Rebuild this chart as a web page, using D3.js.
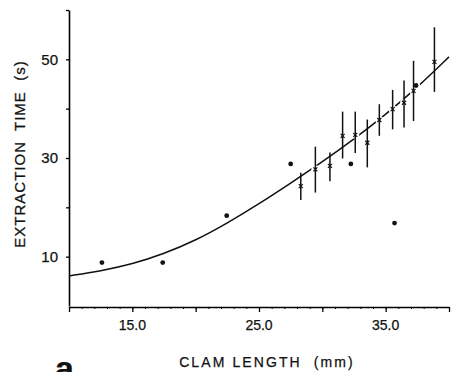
<!DOCTYPE html>
<html>
<head>
<meta charset="utf-8">
<script src="https://cdn.jsdelivr.net/npm/d3@7"></script>
<style>
  body { margin: 0; background: #fff; }
  svg { display: block; }
  text { font-family: "Liberation Sans", Arial, sans-serif; fill: #111; stroke: #111; stroke-width: 0.25px; }
</style>
</head>
<body>
<div id="chart"></div>
<script>

//Fitted curve
var curveLength = [10, 12.5, 15, 17.5, 20, 22.5, 25, 27.5, 30, 32.5, 35, 37.5, 40];
var curveTime = [6.1, 7.1, 8.5, 10.6, 13.3, 16.8, 20.7, 24.9, 29.2, 33.8, 38.8, 44.3, 50.5];

//Single clams (filled dots)
var dotLength = [12.6, 17.4, 22.45, 27.5, 32.25, 35.7, 37.4];
var dotTime = [8.8, 8.8, 18.3, 28.8, 28.8, 16.8, 44.7];

//Means (x) with their ranges
var meanLength = [28.3, 29.45, 30.6, 31.6, 32.6, 33.55, 34.5, 35.55, 36.45, 37.2, 38.85];
var meanTime = [24.3, 27.7, 28.4, 34.5, 34.7, 33.1, 37.7, 39.9, 41.2, 43.6, 49.5];
var lowTime = [21.5, 23.0, 25.3, 29.9, 31.0, 28.1, 34.5, 35.8, 36.2, 37.5, 43.4];
var highTime = [27.0, 32.3, 31.1, 39.4, 39.4, 37.8, 40.9, 43.8, 45.7, 49.7, 56.5];

var xTicks = [15, 25, 35];
var yTicks = [10, 30, 50];

var width = 451, height = 372;

var svg = d3.select("#chart").append("svg")
	.attr("width", width)
	.attr("height", height);

var x = d3.scaleLinear().domain([10, 40]).range([69, 449]);
var y = d3.scaleLinear().domain([0, 60]).range([306, 10]);

///////////////////////////////////////////////////////////////////////////
//////////////////////////////// Axes /////////////////////////////////////
///////////////////////////////////////////////////////////////////////////

//x axis - minor ticks every 1 mm, bigger ones every 5 mm
svg.append("g")
	.attr("transform", "translate(0,307)")
	.call(d3.axisBottom(x).tickValues(d3.range(10, 41, 1)).tickSize(2).tickFormat(""))
	.call(function(g) { g.select(".domain").remove(); });

svg.append("g")
	.attr("transform", "translate(0,307)")
	.call(d3.axisBottom(x).tickValues(d3.range(10, 41, 5)).tickSize(5).tickSizeOuter(0).tickFormat(""))
	.call(function(g) {
		g.select(".domain").attr("stroke-width", 1.6);
		g.selectAll(".tick line").attr("stroke-width", 1.3);
	});

svg.append("g").selectAll("text")
	.data(xTicks)
	.enter().append("text")
	.attr("x", function(d) { return x(d); })
	.attr("y", 330)
	.attr("text-anchor", "middle")
	.style("font-size", "14px")
	.text(function(d) { return d.toFixed(1); });

//y axis
svg.append("g")
	.attr("transform", "translate(69,0)")
	.call(d3.axisLeft(y).tickValues([10, 20, 30, 40, 50, 60]).tickSize(3).tickSizeOuter(0).tickFormat(""))
	.call(function(g) {
		g.select(".domain").attr("stroke-width", 1.6);
		g.selectAll(".tick line").attr("stroke-width", 1.3);
	});

svg.append("g").selectAll("text")
	.data(yTicks)
	.enter().append("text")
	.attr("x", 58)
	.attr("y", function(d) { return y(d); })
	.attr("dy", "0.36em")
	.attr("text-anchor", "end")
	.style("font-size", "15px")
	.text(function(d) { return d; });

//Axis titles
svg.append("text")
	.attr("transform", "translate(25,154) rotate(-90)")
	.attr("text-anchor", "middle")
	.style("font-size", "15px")
	.style("letter-spacing", "1px")
	.attr("xml:space", "preserve")
	.text("EXTRACTION  TIME  (s)");

svg.append("text")
	.attr("x", 267)
	.attr("y", 367)
	.attr("text-anchor", "middle")
	.style("font-size", "14px")
	.style("letter-spacing", "2.1px")
	.attr("xml:space", "preserve")
	.text("CLAM LENGTH  (mm)");

//Panel letter, cut off at the bottom as in the scan
svg.append("text")
	.attr("x", 55)
	.attr("y", 380)
	.style("font-size", "34px")
	.style("font-weight", "bold")
	.text("a");

///////////////////////////////////////////////////////////////////////////
/////////////////////////////// Marks /////////////////////////////////////
///////////////////////////////////////////////////////////////////////////

var line = d3.line()
	.x(function(d) { return x(d[0]); })
	.y(function(d) { return y(d[1]); })
	.curve(d3.curveBasis);

svg.append("path")
	.datum(d3.zip(curveLength, curveTime))
	.attr("fill", "none")
	.attr("stroke", "#111")
	.attr("stroke-width", 1.5)
	.attr("d", line);

//White knock-outs so the curve breaks at each marker
var knock = d3.zip(dotLength, dotTime).concat(d3.zip(meanLength, meanTime));
svg.append("g").selectAll("circle")
	.data(knock)
	.enter().append("circle")
	.attr("cx", function(d) { return x(d[0]); })
	.attr("cy", function(d) { return y(d[1]); })
	.attr("r", 4)
	.attr("fill", "#fff");

//Range bars
svg.append("g").selectAll("line")
	.data(meanLength)
	.enter().append("line")
	.attr("x1", function(d) { return x(d); })
	.attr("x2", function(d) { return x(d); })
	.attr("y1", function(d, i) { return y(lowTime[i]); })
	.attr("y2", function(d, i) { return y(highTime[i]); })
	.attr("stroke", "#111")
	.attr("stroke-width", 1.5);

//Mean markers (x)
svg.append("g").selectAll("path")
	.data(meanLength)
	.enter().append("path")
	.attr("transform", function(d, i) { return "translate(" + x(d) + "," + y(meanTime[i]) + ")"; })
	.attr("d", "M-2,-2L2,2M-2,2L2,-2")
	.attr("stroke", "#111")
	.attr("stroke-width", 1.2)
	.attr("fill", "none");

//Single values (dots)
svg.append("g").selectAll("circle")
	.data(dotLength)
	.enter().append("circle")
	.attr("cx", function(d) { return x(d); })
	.attr("cy", function(d, i) { return y(dotTime[i]); })
	.attr("r", 2.4)
	.attr("fill", "#111");

</script>
</body>
</html>
